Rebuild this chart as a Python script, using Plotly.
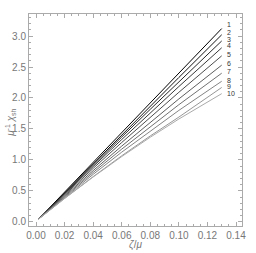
import plotly.graph_objects as go

x_vals = [0.002, 0.02, 0.04, 0.06, 0.08, 0.10, 0.13]
curve_labels = ["1", "2", "3", "4", "5", "6", "7", "8", "9", "10"]
y_series = [
    [0.05, 0.482, 0.961, 1.441, 1.921, 2.400, 3.12],
    [0.05, 0.472, 0.940, 1.406, 1.869, 2.331, 3.02],
    [0.05, 0.463, 0.919, 1.370, 1.818, 2.262, 2.92],
    [0.05, 0.453, 0.894, 1.330, 1.760, 2.185, 2.81],
    [0.05, 0.439, 0.864, 1.282, 1.691, 2.092, 2.68],
    [0.05, 0.423, 0.828, 1.224, 1.609, 1.985, 2.53],
    [0.05, 0.409, 0.798, 1.175, 1.539, 1.892, 2.40],
    [0.05, 0.396, 0.768, 1.126, 1.470, 1.800, 2.27],
    [0.05, 0.380, 0.731, 1.068, 1.388, 1.692, 2.17],
    [0.05, 0.378, 0.725, 1.055, 1.367, 1.661, 2.07],
]
label_y = [3.185, 3.06, 2.95, 2.84, 2.70, 2.55, 2.42, 2.29, 2.18, 2.075]
x_ticks = [0.00, 0.02, 0.04, 0.06, 0.08, 0.10, 0.12, 0.14]
y_ticks = [0.0, 0.5, 1.0, 1.5, 2.0, 2.5, 3.0]

fig = go.Figure()
n = len(y_series)
for i, ys in enumerate(y_series):
    g = int(round(170 * i / (n - 1)))
    col = f"rgb({g},{g},{g})"
    fig.add_trace(go.Scatter(x=x_vals, y=ys, mode="lines",
                             line=dict(color=col, width=1), showlegend=False,
                             hoverinfo="skip"))
    fig.add_annotation(x=x_vals[-1], y=label_y[i], text=curve_labels[i],
                       showarrow=False, xanchor="left", yanchor="middle",
                       xshift=3, font=dict(size=7, color="#333333"))

axis_common = dict(
    showgrid=False, zeroline=False, showline=True, linecolor="#aaaaaa",
    linewidth=1, mirror="allticks", ticks="inside", ticklen=4,
    tickcolor="#aaaaaa", tickfont=dict(size=10, color="#777777"),
    automargin=False,
)
fig.update_xaxes(range=[-0.0049, 0.1442], tickvals=x_ticks,
                 ticktext=[f"{v:.2f}" for v in x_ticks],
                 minor=dict(ticks="inside", ticklen=2, dtick=0.005,
                            tickcolor="#aaaaaa", tick0=0),
                 **axis_common)
fig.update_yaxes(range=[-0.065, 3.355], tickvals=y_ticks,
                 ticktext=[f"{v:.1f}" for v in y_ticks],
                 minor=dict(ticks="inside", ticklen=2, dtick=0.1,
                            tickcolor="#aaaaaa", tick0=0),
                 **axis_common)
fig.add_annotation(xref="paper", yref="paper", x=-0.085, y=0.486,
                   text="<i>μ</i><sup>-1</sup> <i>χ</i><sub>sh</sub>",
                   textangle=-90, showarrow=False, xanchor="center", yanchor="middle",
                   font=dict(size=10, color="#777777"))
fig.add_annotation(xref="paper", yref="paper", x=0.498, y=-0.09,
                   text="<i>ζ</i>/<i>μ</i>",
                   showarrow=False, xanchor="center", yanchor="middle",
                   font=dict(size=10, color="#777777"))
fig.update_layout(
    width=256, height=253,
    margin=dict(l=29, r=14, t=14, b=27),
    paper_bgcolor="white", plot_bgcolor="white",
    font=dict(family="Liberation Sans, Arial, sans-serif", size=10, color="#777777"),
)
# remove the page's default 8px body margin so the figure sits at the window's corner
fig.write_html("out.html", config={"displayModeBar": False},
               post_script="document.body.style.margin='0';")
